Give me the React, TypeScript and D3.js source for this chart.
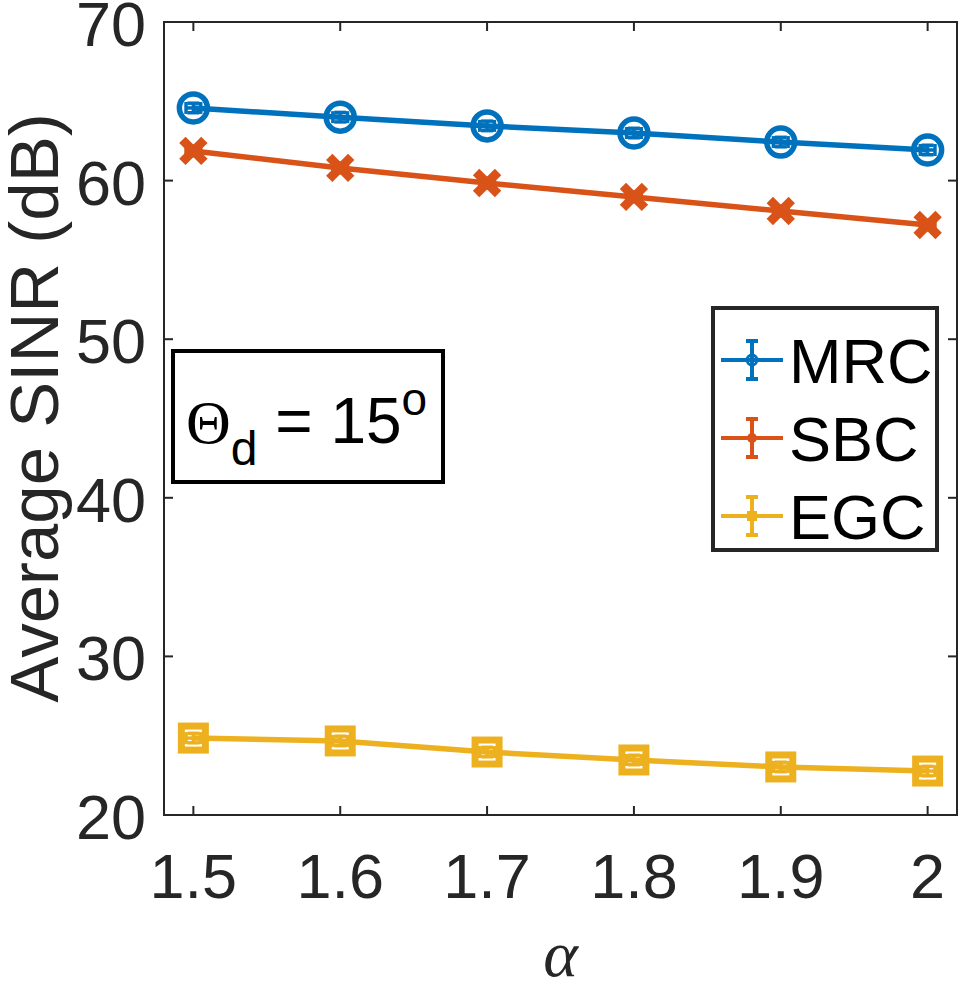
import React from 'react';
import * as d3 from 'd3';

// alpha values on the x axis
const alphas = [1.5, 1.6, 1.7, 1.8, 1.9, 2.0];
const xTicks = [1.5, 1.6, 1.7, 1.8, 1.9, 2];
const yTicks = [20, 30, 40, 50, 60, 70];

// average SINR (dB) per combining scheme
const mrc = [64.58, 64.0, 63.45, 63.0, 62.43, 61.93];
const sbc = [61.87, 60.8, 59.85, 58.97, 58.08, 57.2];
const egc = [24.85, 24.67, 23.97, 23.47, 23.03, 22.77];
const errY = 0.3;
const errX = 0.005;

const seriesNames = ['MRC', 'SBC', 'EGC'];
const seriesColors = ['#0072BD', '#D95319', '#EDB120'];

const W = 964;
const H = 990;
const left = 164;
const right = 957;
const top = 22;
const bottom = 815;
const axisColor = '#262626';
const font = '"Liberation Sans", Arial, Helvetica, sans-serif';
const serif = '"Liberation Serif", "Times New Roman", serif';

const x = d3.scaleLinear().domain([1.48, 2.02]).range([left, right]);
const y = d3.scaleLinear().domain([20, 70]).range([bottom, top]);

function ErrorBars({ xs, ys, color }: { xs: number[]; ys: number[]; color: string }) {
  return (
    <g stroke={color} strokeWidth={3.5} fill="none">
      {xs.map((a, i) => {
        const cx = x(a);
        const y0 = y(ys[i] - errY);
        const y1 = y(ys[i] + errY);
        const x0 = x(a - errX);
        const x1 = x(a + errX);
        const cy = y(ys[i]);
        return (
          <g key={i}>
            <line x1={cx} x2={cx} y1={y0} y2={y1} />
            <line x1={cx - 6} x2={cx + 6} y1={y0} y2={y0} />
            <line x1={cx - 6} x2={cx + 6} y1={y1} y2={y1} />
            <line x1={x0} x2={x1} y1={cy} y2={cy} />
            <line x1={x0} x2={x0} y1={cy - 6} y2={cy + 6} />
            <line x1={x1} x2={x1} y1={cy - 6} y2={cy + 6} />
          </g>
        );
      })}
    </g>
  );
}

function Marker({ kind, cx, cy, color }: { kind: number; cx: number; cy: number; color: string }) {
  if (kind === 0) {
    return <circle cx={cx} cy={cy} r={14} fill="none" stroke={color} strokeWidth={5.5} />;
  }
  if (kind === 1) {
    const s = 11;
    return (
      <g stroke={color} strokeWidth={9}>
        <line x1={cx - s} y1={cy - s} x2={cx + s} y2={cy + s} />
        <line x1={cx - s} y1={cy + s} x2={cx + s} y2={cy - s} />
      </g>
    );
  }
  return <rect x={cx - 12} y={cy - 12} width={24} height={24} fill="none" stroke={color} strokeWidth={7} />;
}

export default function App() {
  const data = [mrc, sbc, egc];
  const line = d3
    .line<number>()
    .x((_, i) => x(alphas[i]))
    .y((v) => y(v));

  const legX = 713;
  const legY = 308;
  const legW = 224;
  const legH = 242;

  return (
    <svg width={W} height={H} style={{ display: 'block', position: 'absolute', left: 0, top: 0, background: '#fff' }}>
      <rect x={0} y={0} width={W} height={H} fill="#fff" />

      {/* axes box with inward ticks on all sides */}
      <g stroke={axisColor} strokeWidth={2} fill="none">
        <rect x={left} y={top} width={right - left} height={bottom - top} />
        {xTicks.map((t) => (
          <g key={t}>
            <line x1={x(t)} x2={x(t)} y1={bottom} y2={bottom - 9} />
            <line x1={x(t)} x2={x(t)} y1={top} y2={top + 9} />
          </g>
        ))}
        {yTicks.map((t) => (
          <g key={t}>
            <line x1={left} x2={left + 9} y1={y(t)} y2={y(t)} />
            <line x1={right} x2={right - 9} y1={y(t)} y2={y(t)} />
          </g>
        ))}
      </g>

      <g fill={axisColor} fontFamily={font} fontSize={63}>
        {xTicks.map((t) => (
          <text key={t} x={x(t)} y={bottom + 83} textAnchor="middle">
            {d3.format('~g')(t)}
          </text>
        ))}
        {yTicks.map((t) => (
          <text key={t} x={left - 18} y={y(t) + 24} textAnchor="end">
            {t}
          </text>
        ))}
      </g>
      <text
        transform={`translate(58, 408) rotate(-90)`}
        textAnchor="middle"
        fontFamily={font}
        fontSize={69}
        fill={axisColor}
      >
        Average SINR (dB)
      </text>
      <text x={(left + right) / 2} y={976} textAnchor="middle" fontFamily={serif} fontStyle="italic" fontSize={66} fill={axisColor}>
        α
      </text>

      {/* series */}
      {data.map((vals, k) => (
        <g key={k}>
          <path d={line(vals) || ''} fill="none" stroke={seriesColors[k]} strokeWidth={5.5} />
          <ErrorBars xs={alphas} ys={vals} color={seriesColors[k]} />
          {vals.map((v, i) => (
            <Marker key={i} kind={k} cx={x(alphas[i])} cy={y(v)} color={seriesColors[k]} />
          ))}
        </g>
      ))}

      {/* parameter annotation */}
      <rect x={173} y={351} width={270} height={131} fill="#fff" stroke="#000" strokeWidth={4} />
      <text x={186} y={443} fontFamily={font} fontSize={64} fill="#000">
        <tspan fontFamily={serif} fontSize={62}>Θ</tspan>
        <tspan fontSize={48} dy={22}>d</tspan>
        <tspan dy={-22}> = 15</tspan>
        <tspan fontSize={46} dy={-28}>o</tspan>
      </text>

      {/* legend */}
      <rect x={legX} y={legY} width={legW} height={legH} fill="#fff" stroke="#262626" strokeWidth={4} />
      {seriesNames.map((name, k) => {
        const cy = legY + 52 + k * 78;
        const c = seriesColors[k];
        return (
          <g key={name}>
            <line x1={legX + 8} x2={legX + 70} y1={cy} y2={cy} stroke={c} strokeWidth={4} />
            <line x1={legX + 39} x2={legX + 39} y1={cy - 19} y2={cy + 19} stroke={c} strokeWidth={4} />
            <line x1={legX + 33} x2={legX + 45} y1={cy - 19} y2={cy - 19} stroke={c} strokeWidth={4} />
            <line x1={legX + 33} x2={legX + 45} y1={cy + 19} y2={cy + 19} stroke={c} strokeWidth={4} />
            {k === 0 && <circle cx={legX + 39} cy={cy} r={5} fill="none" stroke={c} strokeWidth={3} />}
            {k === 1 && <circle cx={legX + 39} cy={cy} r={5} fill={c} />}
            {k === 2 && <rect x={legX + 34} y={cy - 5} width={10} height={10} fill={c} />}
            <text x={legX + 76} y={cy + 23} fontFamily={font} fontSize={63} fill="#000">
              {name}
            </text>
          </g>
        );
      })}
    </svg>
  );
}
